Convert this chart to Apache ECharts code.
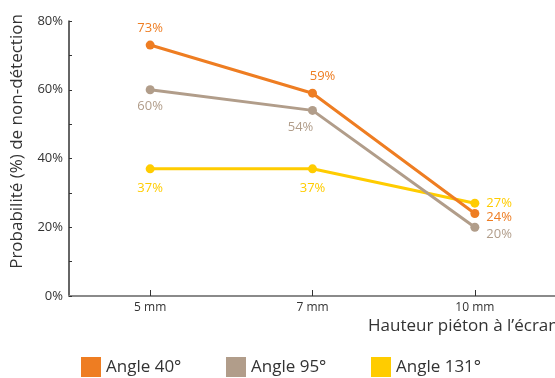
<!DOCTYPE html>
<html>
<head>
<meta charset="utf-8">
<script src="https://cdn.jsdelivr.net/npm/echarts@6/dist/echarts.min.js"></script>
<style>
  html, body { margin: 0; padding: 0; background: #fff; }
  #chart { width: 555px; height: 378px; }
</style>
</head>
<body>
<div id="chart"></div>
<script>
// Pedestrian height on screen (x) vs. probability of non-detection (y)
const categories = ['5 mm', '7 mm', '10 mm'];
const angle40 = [73, 59, 24];
const angle95 = [60, 54, 20];
const angle131 = [37, 37, 27];
const seriesNames = ['Angle 40°', 'Angle 95°', 'Angle 131°'];
const yTicks = [0, 20, 40, 60, 80];

const colors = ['#EE7D22', '#B19D8A', '#FFCC00'];
const FONT = '"Open Sans", "Noto Sans", sans-serif';

// label placement per point: [position, offset]
const labelPlacement = [
  [['top', [0, -1]], ['top', [10, -1]], ['right', [2, 4]]],
  [['bottom', [0, 1]], ['bottom', [-12, 1]], ['right', [2, 7]]],
  [['bottom', [0, 3]], ['bottom', [0, 3]], ['right', [2, 0]]]
];

function makeSeries(name, values, idx) {
  return {
    name: name,
    type: 'line',
    data: values.map((v, i) => ({
      value: v,
      label: {
        position: labelPlacement[idx][i][0],
        offset: labelPlacement[idx][i][1]
      }
    })),
    color: colors[idx],
    symbol: 'circle',
    symbolSize: 9,
    lineStyle: { width: 3 },
    label: {
      show: true,
      formatter: '{c}%',
      color: colors[idx],
      fontFamily: FONT,
      fontSize: 13
    },
    emphasis: { disabled: true },
    z: 10 - idx
  };
}

// one legend block per series, evenly spaced
const legendLefts = [81, 226, 371];
const legends = seriesNames.map((n, i) => ({
  left: legendLefts[i],
  top: 357,
  padding: 0,
  icon: 'rect',
  itemWidth: 20,
  itemHeight: 20,
  selectedMode: false,
  data: [n],
  textStyle: { color: '#333', fontFamily: FONT, fontSize: 17 }
}));

const chart = echarts.init(document.getElementById('chart'), null, { renderer: 'canvas' });
chart.setOption({
  animation: false,
  grid: { left: 69, right: -1, top: 21, bottom: 82, containLabel: false, outerBoundsMode: 'none' },
  xAxis: {
    type: 'category',
    data: categories,
    boundaryGap: true,
    axisLine: { lineStyle: { color: '#8a8a8a', width: 2 } },
    axisTick: { show: true, inside: true, alignWithLabel: true, length: 6, lineStyle: { color: '#333', width: 1 } },
    axisLabel: { color: '#333', fontFamily: FONT, fontSize: 12, margin: 6 },
    splitLine: { show: false }
  },
  yAxis: {
    type: 'value',
    min: 0,
    max: 80,
    interval: 10,
    name: 'Probabilité (%) de non-détection',
    nameLocation: 'middle',
    nameGap: 43,
    nameTextStyle: { color: '#333', fontFamily: FONT, fontSize: 17, padding: [0, 0, 0, 34] },
    axisLine: { show: true, lineStyle: { color: '#333', width: 1.5 } },
    axisTick: { show: true, inside: true, length: 3, lineStyle: { color: '#333' } },
    axisLabel: {
      color: '#333', fontFamily: FONT, fontSize: 13, margin: 6,
      formatter: v => (yTicks.indexOf(v) >= 0 ? v + '%' : '')
    },
    splitLine: { show: false }
  },
  legend: legends,
  graphic: [{
    type: 'text',
    left: 368,
    top: 318,
    style: { text: 'Hauteur piéton à l’écran', fill: '#333', font: '17px ' + FONT }
  }],
  series: [
    makeSeries(seriesNames[0], angle40, 0),
    makeSeries(seriesNames[1], angle95, 1),
    makeSeries(seriesNames[2], angle131, 2)
  ]
});
</script>
</body>
</html>
